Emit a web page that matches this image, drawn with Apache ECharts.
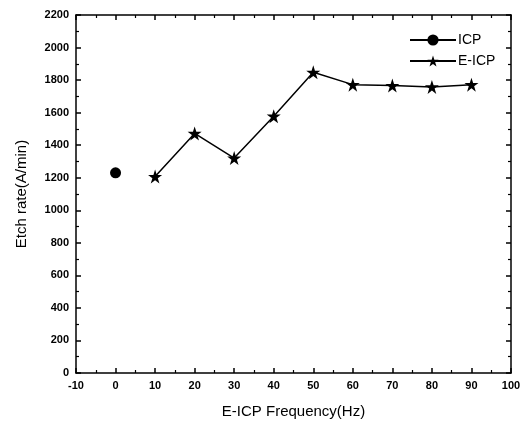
<!DOCTYPE html>
<html><head><meta charset="utf-8">
<script src="https://cdn.jsdelivr.net/npm/echarts@6/dist/echarts.min.js"></script>
<style>html,body{margin:0;padding:0;background:#fff}#c{width:527px;height:429px}</style>
</head><body><div id="c"></div>
<script>
const icpFreq = [0];
const icpRate = [1230];
const eicpFreq = [10, 20, 30, 40, 50, 60, 70, 80, 90];
const eicpRate = [1207, 1472, 1321, 1578, 1848, 1772, 1766, 1758, 1772];
const xTitle = 'E-ICP Frequency(Hz)';
const yTitle = 'Etch rate(A/min)';

const FONT = '"Liberation Sans", Arial, sans-serif';
const chart = echarts.init(document.getElementById('c'));
const tickCommon = () => ({
  axisLine: {show: true, onZero: false, lineStyle: {color: '#000', width: 1.5}},
  axisTick: {show: true, inside: true, length: 5, lineStyle: {color: '#000', width: 1.5}},
  minorTick: {show: true, splitNumber: 2, length: 3, lineStyle: {color: '#000', width: 1.2}},
  splitLine: {show: false}
});
const labelStyle = {fontFamily: FONT, fontWeight: 'bold', fontSize: 11, color: '#000', margin: 7,
  formatter: v => String(v)};
chart.setOption({
  animation: false,
  backgroundColor: '#fff',
  grid: {left: 76, right: 16, top: 15, bottom: 56},
  legend: {
    left: 404, top: 28, orient: 'vertical', itemWidth: 46, itemHeight: 14, itemGap: 7,
    textStyle: {fontFamily: FONT, fontSize: 14, color: '#000', padding: [0, 0, 0, -3]},
    data: ['ICP', 'E-ICP']
  },
  xAxis: [
    Object.assign({
      type: 'value', min: -10, max: 100, interval: 10, position: 'bottom',
      name: xTitle, nameLocation: 'middle', nameGap: 31,
      nameTextStyle: {fontFamily: FONT, fontSize: 15, color: '#000'},
      axisLabel: labelStyle
    }, tickCommon()),
    Object.assign({
      type: 'value', min: -10, max: 100, interval: 10, position: 'top',
      axisLabel: {show: false}
    }, tickCommon())
  ],
  yAxis: [
    Object.assign({
      type: 'value', min: 0, max: 2200, interval: 200, position: 'left',
      name: yTitle, nameLocation: 'middle', nameGap: 47,
      nameTextStyle: {fontFamily: FONT, fontSize: 15, color: '#000'},
      axisLabel: labelStyle
    }, tickCommon()),
    Object.assign({
      type: 'value', min: 0, max: 2200, interval: 200, position: 'right',
      axisLabel: {show: false}
    }, tickCommon())
  ],
  series: [
    {
      name: 'ICP', type: 'line', symbol: 'circle', symbolSize: 11,
      itemStyle: {color: '#000'}, lineStyle: {color: '#000', width: 1.5},
      data: icpFreq.map((x, i) => [x, icpRate[i]])
    },
    {
      name: 'E-ICP', type: 'line',
      symbol: 'path://M50,0 L61.8,35.4 L99,35.4 L69,57.3 L80.4,92.7 L50,70.8 L19.6,92.7 L31,57.3 L1,35.4 L38.2,35.4 Z',
      symbolSize: 14,
      itemStyle: {color: '#000'}, lineStyle: {color: '#000', width: 1.5},
      data: eicpFreq.map((x, i) => [x, eicpRate[i]])
    }
  ]
});
</script></body></html>
